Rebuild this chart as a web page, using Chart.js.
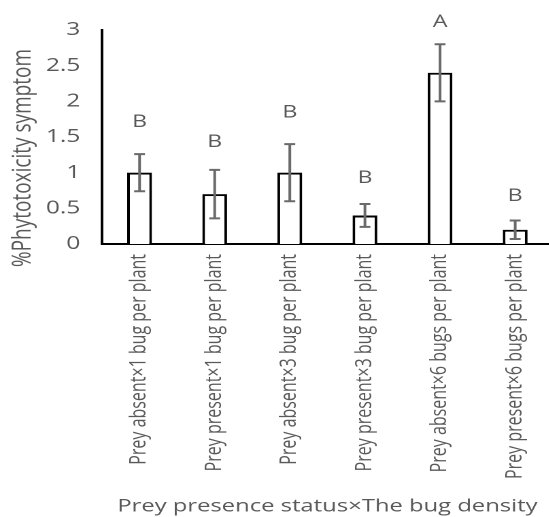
<!DOCTYPE html>
<html><head><meta charset="utf-8">
<script src="https://cdn.jsdelivr.net/npm/chart.js@4"></script>
<style>
html,body{margin:0;padding:0;background:#fff;overflow:hidden;}
#wrap{width:549px;height:517px;overflow:hidden;position:relative;background:#fff;}
#inner{position:absolute;left:0;top:0;width:408px;height:517px;transform:scaleX(1.36);transform-origin:0 0;}
canvas{display:block;}
</style></head><body>
<div id="wrap"><div id="inner"><canvas id="c" width="408" height="517" style="width:408px;height:517px"></canvas></div></div>
<script>
const categories = [
  'Prey absent×1 bug per plant',
  'Prey present×1 bug per plant',
  'Prey absent×3 bug per plant',
  'Prey present×3 bug per plant',
  'Prey absent×6 bugs per plant',
  'Prey present×6 bugs per plant'
];
const means = [1.0, 0.7, 1.0, 0.4, 2.4, 0.2];
const errors = [0.26, 0.34, 0.40, 0.16, 0.40, 0.13];
const letters = ['B', 'B', 'B', 'B', 'A', 'B'];
const letterY = [1.71, 1.43, 1.84, 0.92, 3.11, 0.67];
const yMin = 0, yMax = 3, yStep = 0.5;
const yTitle = '%Phytotoxicity symptom';
const xTitle = 'Prey presence status×The bug density';

const FONT = '"Open Sans", "Noto Sans", sans-serif';
const GRAY = '#595959';

const extras = {
  id: 'extras',
  afterDatasetsDraw(chart) {
    const ctx = chart.ctx;
    const xs = chart.scales.x, ys = chart.scales.y;
    ctx.save();
    ctx.strokeStyle = '#6a6a6a';
    ctx.lineWidth = 2;
    means.forEach((m, i) => {
      const x = xs.getPixelForValue(i);
      const yt = ys.getPixelForValue(m + errors[i]);
      const yb = ys.getPixelForValue(Math.max(0, m - errors[i]));
      ctx.beginPath();
      ctx.moveTo(x, yt); ctx.lineTo(x, yb);
      ctx.moveTo(x - 4, yt); ctx.lineTo(x + 4, yt);
      ctx.moveTo(x - 4, yb); ctx.lineTo(x + 4, yb);
      ctx.stroke();
    });
    ctx.fillStyle = GRAY;
    ctx.font = '17px ' + FONT;
    ctx.textAlign = 'center';
    ctx.textBaseline = 'middle';
    letters.forEach((l, i) => {
      ctx.fillText(l, xs.getPixelForValue(i), ys.getPixelForValue(letterY[i]));
    });
    ctx.translate(17, 158);
    ctx.rotate(-Math.PI / 2);
    ctx.font = '19px ' + FONT;
    ctx.fillStyle = GRAY;
    ctx.fillText(yTitle, 0, 0);
    ctx.restore();
  }
};

new Chart(document.getElementById('c'), {
  type: 'bar',
  data: {
    labels: categories,
    datasets: [{
      data: means,
      backgroundColor: '#ffffff',
      borderColor: '#000000',
      borderWidth: 2,
      barPercentage: 0.33,
      categoryPercentage: 1.0
    }]
  },
  options: {
    responsive: false,
    devicePixelRatio: 2,
    animation: false,
    layout: { padding: { top: 30, left: 0, right: 0, bottom: 0 } },
    plugins: { legend: { display: false }, tooltip: { enabled: false } },
    scales: {
      x: {
        grid: { display: false, drawTicks: false },
        border: { display: true, color: '#000', width: 2 },
        ticks: {
          autoSkip: false, minRotation: 90, maxRotation: 90, padding: 10,
          color: GRAY, font: { family: FONT, size: 16 }
        },
        title: {
          display: true, text: xTitle, color: GRAY,
          font: { family: FONT, size: 17.5 }, padding: { top: 0, bottom: 0 }
        },
        afterFit(s) { s.height = 273; }
      },
      y: {
        min: yMin, max: yMax,
        grid: { display: false, drawTicks: false },
        border: { display: true, color: '#000', width: 2 },
        ticks: {
          stepSize: yStep, padding: 16, color: GRAY,
          font: { family: FONT, size: 18 },
          callback: v => String(Math.round(v * 10) / 10)
        },
        afterFit(s) { s.width = 75; }
      }
    }
  },
  plugins: [extras]
});
</script>
</body></html>
